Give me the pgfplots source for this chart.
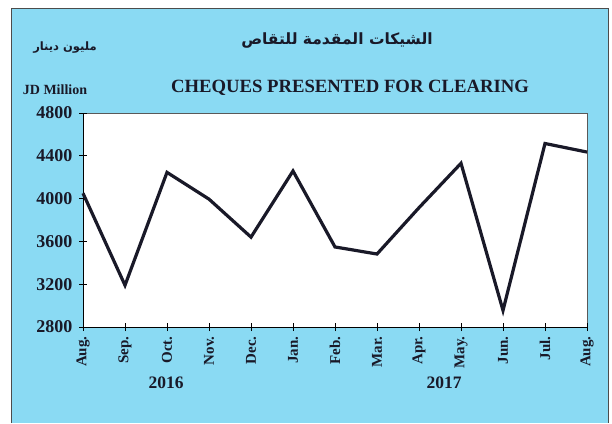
\documentclass[border=0pt]{standalone}
\usepackage{fontspec}
\setmainfont{Liberation Serif}
\newfontfamily\arabicfont[Script=Arabic]{DejaVu Sans}
\TeXXeTstate=1
\usepackage{pgfplots}
\pgfplotsset{compat=1.18}
\definecolor{panel}{RGB}{138,218,243}
\definecolor{lineblue}{RGB}{25,25,40}
\begin{document}
\begin{tikzpicture}[x=1pt,y=1pt]
\fill[white] (0,0) rectangle (612,423);
\fill[panel] (11,0) rectangle (608,415);
\draw[gray!60!black, line width=0.8pt] (11,0) -- (11,415) -- (608,415) -- (608,0);
\node[font=\arabicfont\bfseries\fontsize{15.5}{15.5}\selectfont, text=lineblue] at (337,382) {\beginR الشيكات المقدمة للتقاص\endR};
\node[font=\arabicfont\bfseries\fontsize{11.5}{11.5}\selectfont, text=lineblue] at (65,375) {\beginR مليون دينار\endR};
\node[font=\bfseries\fontsize{14}{14}\selectfont, text=lineblue] at (55,333) {JD Million};
\node[font=\bfseries\fontsize{18.7}{18.7}\selectfont, text=lineblue] at (350,335) {CHEQUES PRESENTED FOR CLEARING};
\begin{axis}[
  at={(83pt,96pt)}, anchor=south west, scale only axis,
  width=504pt, height=214pt,
  xmin=0, xmax=12, ymin=2800, ymax=4800,
  ytick={2800,3200,3600,4000,4400,4800},
  xtick={0,1,2,3,4,5,6,7,8,9,10,11,12},
  xticklabels={Aug.,Sep.,Oct.,Nov.,Dec.,Jan.,Feb.,Mar.,Apr.,May.,Jun.,Jul.,Aug.},
  axis lines=left,
  axis line style={-, black, line width=1pt},
  axis background/.style={fill=white, draw=gray!70!black, line width=0.6pt},
  tick align=center,
  major tick length=8pt,
  tick style={black, line width=0.8pt},
  /pgf/number format/assume math mode=true,
  /pgf/number format/1000 sep={},
  yticklabel style={font=\bfseries\fontsize{18}{18}\selectfont, text=lineblue, xshift=-3pt},
  xticklabel style={font=\bfseries\fontsize{15}{15}\selectfont, rotate=90, anchor=east, text=lineblue, xshift=-2pt},
  clip=false,
]
\addplot[lineblue, line width=3.2pt, line join=miter, mark=none] coordinates {
(0,4050) (1,3190) (2,4245) (3,3995) (4,3640) (5,4258) (6,3548) (7,3482) (8,3915) (9,4330) (10,2955) (11,4515) (12,4435)
};
\end{axis}
\node[font=\bfseries\fontsize{17.5}{17.5}\selectfont, text=lineblue] at (166,40) {2016};
\node[font=\bfseries\fontsize{17.5}{17.5}\selectfont, text=lineblue] at (444,40) {2017};
\end{tikzpicture}
\end{document}
